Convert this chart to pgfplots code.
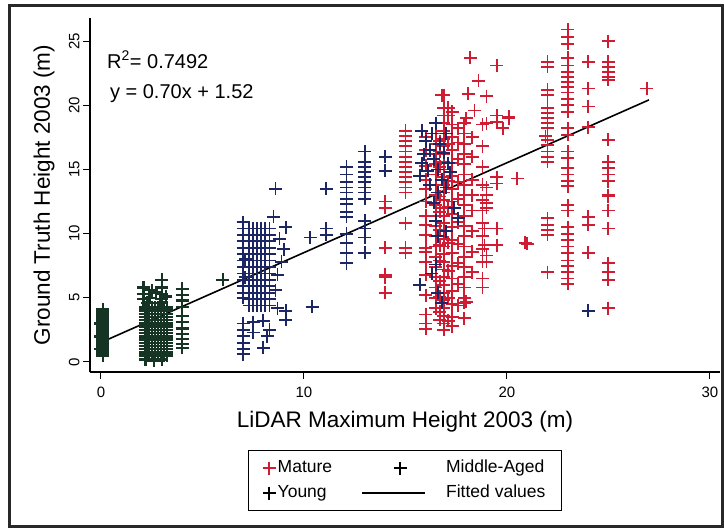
\documentclass[border=0pt]{standalone}
\usepackage{fontspec}
\setmainfont{Liberation Sans}
\usepackage{pgfplots}
\pgfplotsset{compat=1.18}
\definecolor{mature}{RGB}{208,28,50}
\definecolor{middle}{RGB}{28,38,100}
\definecolor{young}{RGB}{22,52,36}
\definecolor{framec}{RGB}{40,40,40}
\begin{document}
\begin{tikzpicture}
\begin{axis}[name=ax,
  scale only axis, width=630pt, height=354pt,
  xmin=-0.54, xmax=30.5, ymin=-0.78, ymax=26.8,
  axis x line*=bottom, axis y line*=left,
  axis line style={line width=1.3pt,-},
  xtick={0,10,20,30}, ytick={0,5,10,15,20,25},
  tick align=outside, major tick length=7pt,
  tick style={line width=1pt,black},
  /pgf/number format/assume math mode=true,
  tick label style={font=\fontsize{15}{18}\selectfont},
  xticklabel style={yshift=-4pt},
  yticklabel style={rotate=90,anchor=south},
  xlabel={LiDAR Maximum Height 2003 (m)},
  ylabel={Ground Truth Height 2003 (m)},
  xlabel style={at={(axis description cs:0.5,-0.158)},anchor=base,font=\fontsize{22.5}{27}\selectfont},
  ylabel style={at={(axis description cs:-0.0635,0.5)},anchor=base,font=\fontsize{22.5}{27}\selectfont},
  legend columns=2,
  legend cell align=left,
  legend style={at={(axis description cs:0.2508,-0.2203)},anchor=north west,
    draw=black,line width=1.4pt,inner xsep=14pt,inner ysep=9pt,row sep=8pt,
    font=\fontsize{17.5}{20}\selectfont,
    nodes={inner xsep=2pt,inner ysep=0pt,text height=13pt,text depth=4pt}},
]
\addplot[only marks, mark=+, mark size=6.5pt, line width=1.8pt, color=mature,
  legend image code/.code={\path[draw=none] (0pt,0pt) -- (13pt,0pt); \draw[only marks,line width=1.5pt,mark size=6.5pt] plot coordinates {(6.5pt,0pt)};}]
coordinates {
(22.0,23.4)(22.0,23.0)(22.0,21.2)(22.0,20.8)(22.0,19.8)(22.0,19.4)(22.0,19.0)(22.0,18.6)(22.0,18.2)(21.9,17.6)(22.0,17.3)(22.0,16.9)(22.0,16.4)(22.0,16.0)(22.0,15.6)(22.0,11.2)(22.0,10.7)(22.0,10.3)(22.0,9.9)(22.0,7.0)(20.9,9.3)
(23.0,25.9)(23.0,25.3)(23.0,24.8)(23.0,23.7)(23.0,23.1)(23.0,22.6)(23.0,22.2)(23.0,21.8)(23.0,21.4)(23.0,21.0)(23.0,20.5)(23.0,20.0)(23.0,19.5)(23.0,18.2)(23.0,17.7)(23.0,16.4)(23.0,15.9)(23.0,15.1)(23.0,14.6)(23.0,14.1)(23.0,13.7)(23.0,12.2)(23.0,11.8)(23.0,10.5)(23.0,10.0)(23.0,9.5)(23.0,9.0)(23.0,8.5)(23.0,7.9)(23.0,7.5)(23.0,7.0)(23.0,6.5)(23.0,6.1)
(24.0,23.4)(24.0,21.3)(24.0,19.9)(24.0,18.3)(24.0,11.3)(24.0,10.7)(24.0,8.5)
(25.0,25.0)(25.0,23.4)(25.0,23.0)(25.0,22.6)(25.0,22.2)(25.0,22.0)(25.0,17.3)(25.0,15.6)(25.0,15.1)(25.0,14.6)(25.0,14.1)(25.0,13.0)(25.0,12.9)(25.0,11.8)(25.0,10.4)(25.0,7.7)(25.0,7.0)(25.0,6.4)(25.0,4.2)
(26.9,21.3)(20.5,14.3)(20.1,19.0)(21.0,9.2)
(18.2,23.7)(19.5,23.1)(18.6,21.9)(19.0,20.7)(18.1,20.9)(16.8,20.8)(17.1,19.8)(17.1,19.2)(19.5,19.2)(20.1,19.1)(19.0,18.6)(18.8,18.5)(19.5,18.7)(19.8,18.2)(18.4,19.6)(18.0,19.0)(17.6,18.2)
(15.0,18.0)(15.0,17.6)(15.0,17.2)(15.0,16.8)(15.0,16.4)(15.0,16.0)(15.0,15.6)(15.0,15.2)(15.0,14.8)(15.0,14.4)(15.0,14.0)(15.0,13.6)(15.0,13.2)(15.0,10.8)(15.0,8.9)(15.0,8.5)
(14.0,12.5)(14.0,12.0)(14.0,8.9)(14.0,6.8)(14.0,5.4)(14.0,6.6)
(16.0,17.5)(16.0,16.5)(16.0,15.3)(16.0,14.2)(16.0,13.5)(16.0,12.5)(16.0,11.4)(16.0,10.7)(16.0,9.9)(16.0,8.9)(16.0,8.6)(16.0,7.8)(16.0,6.8)(16.0,5.2)(16.0,3.7)(16.0,3.0)(16.0,2.6)
(16.5,18.6)(16.5,17.8)(16.5,17.0)(16.5,16.2)(16.5,15.4)(16.5,14.6)(16.5,13.8)(16.5,13.0)(16.5,12.2)(16.5,11.4)(16.5,10.6)(16.5,9.8)(16.5,9.0)(16.5,8.2)(16.5,7.4)(16.5,6.6)(16.5,5.8)(16.5,5.0)(16.5,4.2)
(16.7,17.2)(16.7,16.4)(16.7,15.2)(16.7,12.9)(16.7,11.7)(16.7,10.3)(16.7,9.1)(16.7,7.9)(16.7,6.3)(16.7,5.1)(16.7,3.9)(16.7,3.3)
(16.9,20.8)(16.9,19.8)(16.9,19.2)(16.9,18.6)(16.9,18.0)(16.9,17.4)(16.9,16.8)(16.9,16.2)(16.9,15.6)(16.9,15.0)(16.9,14.4)(16.9,13.8)(16.9,13.2)(16.9,12.6)(16.9,12.0)(16.9,11.4)(16.9,10.8)(16.9,10.2)(16.9,9.6)(16.9,9.0)(16.9,8.4)(16.9,7.8)(16.9,7.2)(16.9,6.6)(16.9,6.0)(16.9,5.4)(16.9,4.8)(16.9,4.2)(16.9,3.6)(16.9,3.0)(16.9,2.5)
(17.1,17.0)(17.1,14.1)(17.1,12.1)(17.1,9.3)(17.1,7.1)(17.1,5.0)(17.1,3.2)
(17.3,19.5)(17.3,18.5)(17.3,17.5)(17.3,16.5)(17.3,15.5)(17.3,14.5)(17.3,13.5)(17.3,12.5)(17.3,11.5)(17.3,10.5)(17.3,9.5)(17.3,8.5)(17.3,7.5)(17.3,6.5)(17.3,5.5)(17.3,4.5)(17.3,3.5)(17.3,2.8)
(17.6,17.1)(17.6,15.8)(17.6,14.0)(17.6,12.7)(17.6,10.9)(17.6,9.2)(17.6,7.7)(17.6,6.1)(17.6,4.4)
(17.9,18.6)(17.9,17.8)(17.9,17.0)(17.9,16.2)(17.9,15.4)(17.9,14.6)(17.9,13.8)(17.9,13.0)(17.9,12.2)(17.9,11.4)(17.9,10.6)(17.9,9.8)(17.9,9.0)(17.9,8.2)(17.9,7.4)(17.9,6.6)(17.9,5.8)(17.9,5.0)(17.9,4.6)(17.9,3.4)
(18.3,17.5)(18.3,16.0)(18.3,14.2)(18.3,13.0)(18.3,11.8)(18.3,10.2)(18.3,8.6)(18.3,7.0)
(18.8,16.8)(18.8,15.2)(18.8,13.8)(18.8,12.6)(18.8,11.8)(18.8,10.8)(18.8,9.8)(18.8,8.8)(18.8,7.8)(18.8,6.5)(18.8,5.8)
(19.0,13.6)(19.0,13.0)(19.0,12.4)(19.0,12.0)(19.0,8.3)(19.0,7.8)
(19.5,14.4)(19.5,13.9)(19.5,10.4)(19.5,9.1)(18.9,10.4)(18.9,9.1)(18.0,4.7)
};
\addlegendentry{Mature}
\addplot[only marks, mark=+, mark size=6.5pt, line width=1.8pt, color=middle,
  legend image code/.code={\path[draw=none] (-28pt,0pt) -- (82pt,0pt); \draw[only marks,line width=1.5pt,mark size=6.5pt,black] plot coordinates {(38pt,0pt)};}]
coordinates {
(7.0,10.9)(7.0,10.4)(7.0,9.9)(7.0,9.4)(7.0,8.9)(7.0,8.4)(7.0,7.9)(7.0,7.4)(7.0,6.9)(7.0,6.4)(7.0,5.9)(7.0,5.4)(7.0,5.0)(7.0,3.0)(7.0,2.5)(7.0,2.0)(7.0,1.5)(7.0,1.0)(7.0,0.6)(7.1,8.0)(7.1,6.6)
(7.3,4.4)(7.3,4.9)(7.3,5.4)(7.3,5.9)(7.3,6.4)(7.3,6.9)(7.3,7.4)(7.3,7.9)(7.3,8.4)(7.3,8.9)(7.3,9.4)(7.3,9.9)(7.3,10.4)
(7.5,4.4)(7.5,4.9)(7.5,5.4)(7.5,5.9)(7.5,6.4)(7.5,6.9)(7.5,7.4)(7.5,7.9)(7.5,8.4)(7.5,8.9)(7.5,9.4)(7.5,9.9)(7.5,10.4)
(7.7,4.4)(7.7,4.9)(7.7,5.4)(7.7,5.9)(7.7,6.4)(7.7,6.9)(7.7,7.4)(7.7,7.9)(7.7,8.4)(7.7,8.9)(7.7,9.4)(7.7,9.9)(7.7,10.4)
(7.9,4.4)(7.9,4.9)(7.9,5.4)(7.9,5.9)(7.9,6.4)(7.9,6.9)(7.9,7.4)(7.9,7.9)(7.9,8.4)(7.9,8.9)(7.9,9.4)(7.9,9.9)(7.9,10.4)
(8.1,4.4)(8.1,4.9)(8.1,5.4)(8.1,5.9)(8.1,6.4)(8.1,6.9)(8.1,7.4)(8.1,7.9)(8.1,8.4)(8.1,8.9)(8.1,9.4)(8.1,9.9)(8.1,10.4)
(8.3,4.4)(8.3,4.9)(8.3,5.4)(8.3,5.9)(8.3,6.4)(8.3,6.9)(8.3,7.4)(8.3,7.9)(8.3,8.4)(8.3,8.9)(8.3,9.4)(8.3,9.9)(8.3,10.4)
(8.6,13.5)(8.5,11.3)(9.1,10.5)(8.8,9.6)(9.0,8.8)(8.9,7.8)(8.7,6.8)(8.6,5.6)(8.7,4.2)(9.1,3.3)(9.1,4.0)(10.4,4.3)(7.5,3.1)(7.5,2.3)(8.0,1.1)(8.3,2.5)(8.0,3.2)(8.2,2.0)(10.3,9.7)(11.1,13.5)(11.1,10.4)(11.1,9.9)
(12.1,15.2)(12.1,14.6)(12.1,14.0)(12.1,13.6)(12.1,13.2)(12.1,12.7)(12.1,12.3)(12.1,11.7)(12.1,11.3)(12.1,10.0)(12.1,9.3)(12.1,8.5)(12.1,7.7)
(13.0,16.4)(13.0,15.6)(13.0,15.2)(13.0,14.8)(13.0,14.4)(13.0,14.0)(13.0,13.6)(13.0,13.2)(13.0,12.7)(13.0,11.0)(13.0,10.4)(13.0,9.7)(13.0,8.5)
(14.0,16.0)(14.0,14.9)
(15.8,18.0)(16.0,17.2)(16.2,16.5)(16.4,15.8)(16.6,15.0)(16.8,14.2)(17.0,13.6)(15.9,16.2)(16.1,14.9)(16.3,17.8)(16.5,18.6)(16.7,17.0)(16.9,16.3)(17.1,15.5)(17.2,14.8)(15.7,14.5)(15.8,15.5)(16.2,13.8)(16.6,13.2)(17.0,17.8)(16.4,12.4)(16.5,11.0)(16.6,9.8)(16.5,7.6)(16.3,6.9)(15.7,6.0)(16.6,5.4)(16.8,4.6)(17.4,12.0)(17.6,11.2)(17.0,10.2)
(24.0,4.0)
};
\addlegendentry{Middle-Aged}
\addplot[only marks, mark=+, mark size=6.5pt, line width=2.4pt, color=young,
  legend image code/.code={\path[draw=none] (0pt,0pt) -- (13pt,0pt); \draw[only marks,line width=1.5pt,mark size=6.5pt,black] plot coordinates {(6.5pt,0pt)};}]
coordinates {
(0.1,0.5)(0.1,0.65)(0.1,0.8)(0.1,0.95)(0.1,1.1)(0.1,1.25)(0.1,1.4)(0.1,1.55)(0.1,1.7)(0.1,1.85)(0.1,2.0)(0.1,2.15)(0.1,2.3)(0.1,2.45)(0.1,2.6)(0.1,2.75)(0.1,2.9)(0.1,3.05)(0.1,3.2)(0.1,3.35)(0.1,3.5)(0.1,3.65)(0.1,3.8)(0.1,3.95)(0.1,4.1)(0.0,1.0)(0.0,2.0)(0.0,3.0)
(2.2,0.5)(2.2,0.75)(2.2,1.0)(2.2,1.25)(2.2,1.5)(2.2,1.75)(2.2,2.0)(2.2,2.25)(2.2,2.5)(2.2,2.75)(2.2,3.0)(2.2,3.25)(2.2,3.5)(2.2,3.75)(2.2,4.0)(2.2,4.25)
(2.35,0.5)(2.35,0.75)(2.35,1.0)(2.35,1.25)(2.35,1.5)(2.35,1.75)(2.35,2.0)(2.35,2.25)(2.35,2.5)(2.35,2.75)(2.35,3.0)(2.35,3.25)(2.35,3.5)(2.35,3.75)(2.35,4.0)(2.35,4.25)
(2.5,0.5)(2.5,0.75)(2.5,1.0)(2.5,1.25)(2.5,1.5)(2.5,1.75)(2.5,2.0)(2.5,2.25)(2.5,2.5)(2.5,2.75)(2.5,3.0)(2.5,3.25)(2.5,3.5)(2.5,3.75)(2.5,4.0)(2.5,4.25)
(2.65,0.5)(2.65,0.75)(2.65,1.0)(2.65,1.25)(2.65,1.5)(2.65,1.75)(2.65,2.0)(2.65,2.25)(2.65,2.5)(2.65,2.75)(2.65,3.0)(2.65,3.25)(2.65,3.5)(2.65,3.75)(2.65,4.0)(2.65,4.25)
(2.8,0.5)(2.8,0.75)(2.8,1.0)(2.8,1.25)(2.8,1.5)(2.8,1.75)(2.8,2.0)(2.8,2.25)(2.8,2.5)(2.8,2.75)(2.8,3.0)(2.8,3.25)(2.8,3.5)(2.8,3.75)(2.8,4.0)(2.8,4.25)
(2.95,0.5)(2.95,0.75)(2.95,1.0)(2.95,1.25)(2.95,1.5)(2.95,1.75)(2.95,2.0)(2.95,2.25)(2.95,2.5)(2.95,2.75)(2.95,3.0)(2.95,3.25)(2.95,3.5)(2.95,3.75)(2.95,4.0)(2.95,4.25)
(3.1,0.5)(3.1,0.75)(3.1,1.0)(3.1,1.25)(3.1,1.5)(3.1,1.75)(3.1,2.0)(3.1,2.25)(3.1,2.5)(3.1,2.75)(3.1,3.0)(3.1,3.25)(3.1,3.5)(3.1,3.75)(3.1,4.0)(3.1,4.25)
(3.25,0.5)(3.25,0.75)(3.25,1.0)(3.25,1.25)(3.25,1.5)(3.25,1.75)(3.25,2.0)(3.25,2.25)(3.25,2.5)(3.25,2.75)(3.25,3.0)(3.25,3.25)(3.25,3.5)(3.25,3.75)(3.25,4.0)(3.25,4.25)
(2.1,4.9)(2.1,5.3)(2.1,5.8)(3.0,4.9)(3.0,5.3)(3.0,5.8)(3.0,6.4)(2.4,5.0)(2.7,5.4)(3.2,5.1)(2.5,5.6)(2.2,0.2)(2.6,0.1)(3.0,0.2)(2.9,4.6)(2.3,4.6)
(4.0,5.7)(4.0,5.2)(4.0,4.8)(4.0,4.3)(4.0,3.6)(4.0,3.1)(4.0,2.6)(4.0,2.2)(4.0,1.8)(4.0,1.4)(4.0,1.1)
(6.0,6.4)
};
\addlegendentry{Young}
\addplot[black, line width=1.6pt, no marks,
  legend image code/.code={\path[draw=none] (-28pt,0pt) -- (82pt,0pt); \draw[line width=1.6pt] (0pt,0pt) -- (63pt,0pt);}]
coordinates {(0,1.52) (27,20.42)};
\addlegendentry{Fitted values}
\node[anchor=base west,inner sep=0pt,font=\fontsize{20}{24}\selectfont] at (axis cs:0.3,22.9) {R\textsuperscript{2}= 0.7492};
\node[anchor=base west,inner sep=0pt,font=\fontsize{20}{24}\selectfont] at (axis cs:0.44,20.5) {y = 0.70x + 1.52};
\end{axis}
\draw[framec,line width=3pt] ([xshift=-80pt,yshift=-155pt]ax.south west) rectangle ([xshift=2pt,yshift=12pt]ax.north east);
\path ([xshift=-90pt,yshift=-158pt]ax.south west) rectangle ([xshift=634pt,yshift=372pt]ax.south west);
\end{tikzpicture}
\end{document}
